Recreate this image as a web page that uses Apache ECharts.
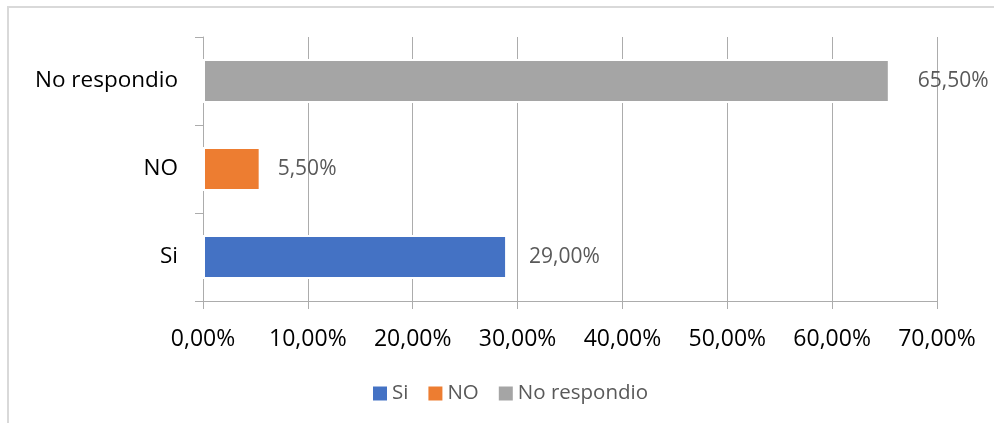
<!DOCTYPE html>
<html>
<head>
<meta charset="utf-8">
<script src="https://cdn.jsdelivr.net/npm/echarts@6/dist/echarts.min.js"></script>
<style>html,body{margin:0;padding:0;background:#fff}#c{width:994px;height:423px}</style>
</head>
<body>
<div id="c"></div>
<script>
const categories = ['Si', 'NO', 'No respondio'];
const seriesNames = ['Si', 'NO', 'No respondio'];
const siValues = [29.0, null, null];
const noValues = [null, 5.5, null];
const noRespValues = [null, null, 65.5];
const xTicks = [0, 10, 20, 30, 40, 50, 60, 70];
const colors = ['#4472C4', '#ED7D31', '#A5A5A5'];

const fmt = v => v.toFixed(2).replace('.', ',') + '%';
const chart = echarts.init(document.getElementById('c'), null, {renderer: 'canvas'});
const font = '"Open Sans", "Noto Sans", sans-serif';
function mk(name, data, color, dist) {
  return {
    name: name, type: 'bar', stack: 'all', data: data, barWidth: 44,
    itemStyle: {color: color, borderColor: '#ffffff', borderWidth: 2},
    label: {show: true, position: 'right', distance: dist, formatter: p => fmt(p.value),
      fontFamily: font, fontSize: 21, color: '#595959'}
  };
}
chart.setOption({
  animation: false,
  color: colors,
  graphic: [{type: 'rect', shape: {x: 8, y: 7, width: 1000, height: 500},
    style: {fill: 'none', stroke: '#d9d9d9', lineWidth: 2}, silent: true, z: -1}],
  grid: {left: 203, right: 57, top: 37, bottom: 122},
  legend: {data: seriesNames, left: 368, top: 378, icon: 'rect', itemWidth: 14, itemHeight: 14,
    itemGap: 20, itemStyle: {borderWidth: 0},
    textStyle: {fontFamily: font, fontSize: 20.5, color: '#595959'}},
  xAxis: {type: 'value', min: xTicks[0], max: xTicks[xTicks.length - 1], interval: 10,
    axisLine: {show: true, lineStyle: {color: '#acacac', width: 1}},
    axisTick: {show: true, length: 8, lineStyle: {color: '#acacac'}},
    splitLine: {show: true, lineStyle: {color: '#acacac', width: 1}},
    axisLabel: {formatter: v => fmt(v), fontFamily: font, fontSize: 23, color: '#000', margin: 27}},
  yAxis: {type: 'category', data: categories,
    axisLine: {show: true, lineStyle: {color: '#acacac', width: 1}},
    axisTick: {show: true, length: 8, lineStyle: {color: '#acacac'}},
    axisLabel: {fontFamily: font, fontSize: 22.5, color: '#000', margin: 25}},
  series: [mk(seriesNames[0], siValues, colors[0], 22), mk(seriesNames[1], noValues, colors[1], 17), mk(seriesNames[2], noRespValues, colors[2], 28)]
});
</script>
</body>
</html>
